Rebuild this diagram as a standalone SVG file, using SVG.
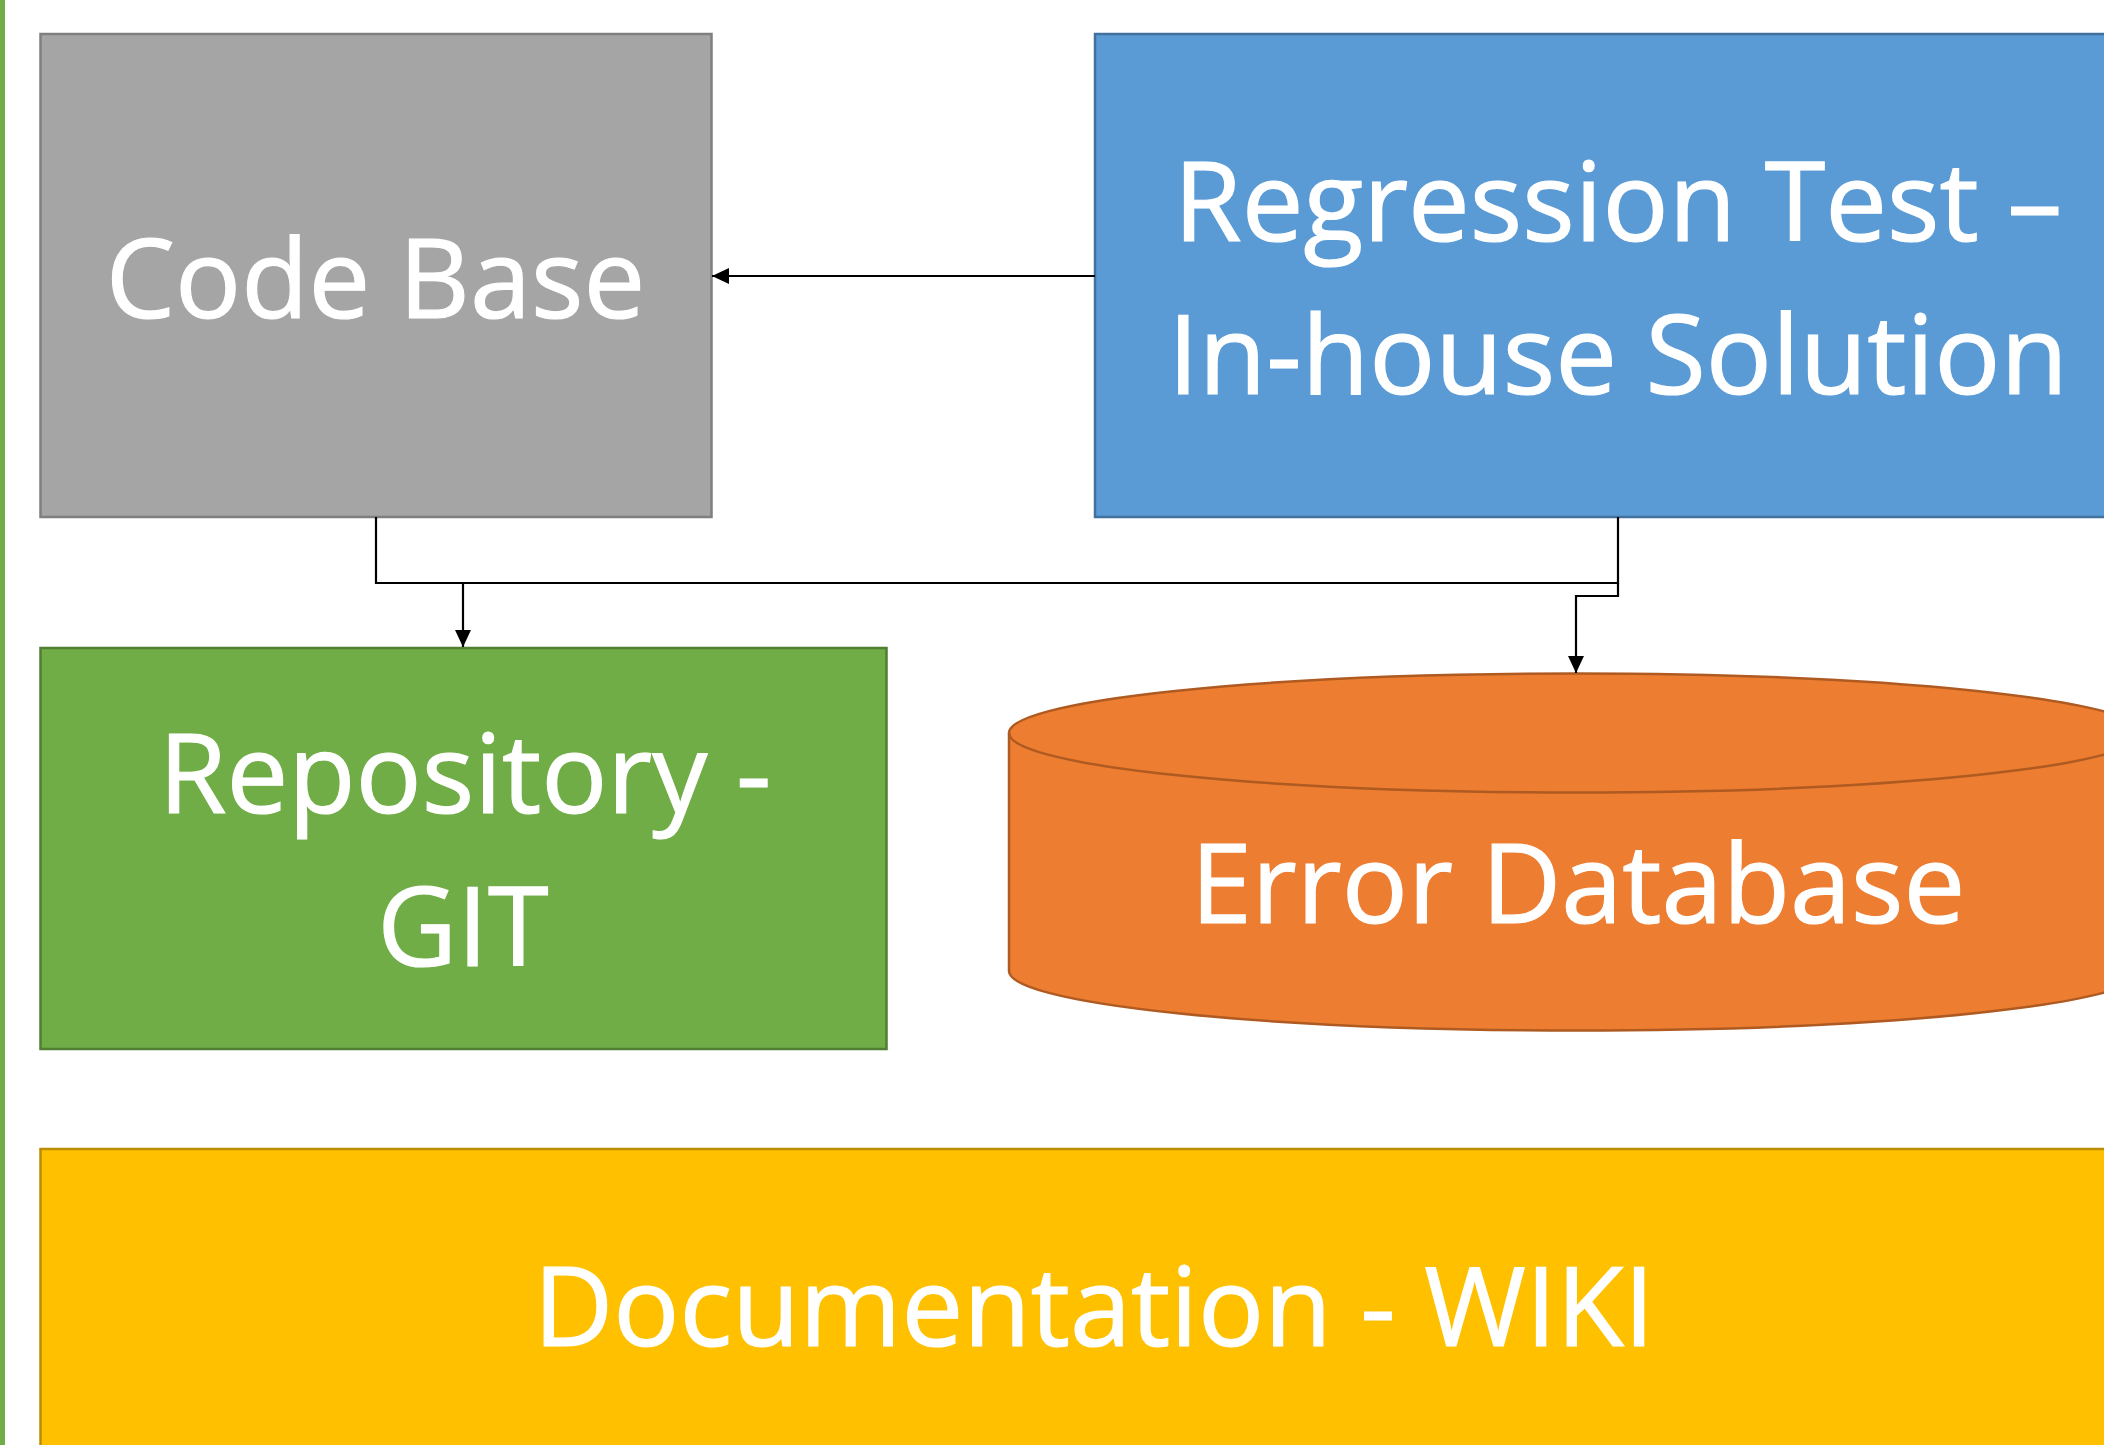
<svg xmlns="http://www.w3.org/2000/svg" width="2104" height="1445" viewBox="0 0 2104 1445">
<style>
.lbl{font-family:"Open Sans","Noto Sans","DejaVu Sans",sans-serif;font-size:110px;fill:#ffffff;stroke:#ffffff;stroke-width:1.2;text-anchor:middle}
.conn{fill:none;stroke:#000000;stroke-width:2.2}
</style>
<defs>
<marker id="ah" markerWidth="17" markerHeight="16" refX="17" refY="8" orient="auto" markerUnits="userSpaceOnUse">
<path d="M0,0 L17,8 L0,16 Z" fill="#000000"/>
</marker>
</defs>
<rect x="0" y="0" width="2104" height="1445" fill="#ffffff"/>
<rect x="0" y="0" width="5" height="1445" fill="#70AD47"/>
<g id="code-base">
<rect x="40.5" y="34" width="671" height="483" fill="#A5A5A5" stroke="#7F7F7F" stroke-width="2.5"/>
<text class="lbl" x="375.5" y="318">Code Base</text>
</g>
<g id="regression-test">
<rect x="1095" y="34" width="1046" height="483" fill="#5B9BD5" stroke="#41719C" stroke-width="2.5"/>
<text class="lbl" x="1618" y="241">Regression Test –</text>
<text class="lbl" x="1618" y="394">In-house Solution</text>
</g>
<g id="repository">
<rect x="40.5" y="648" width="846" height="401" fill="#70AD47" stroke="#507E32" stroke-width="2.5"/>
<text class="lbl" x="465" y="813">Repository -</text>
<text class="lbl" x="463" y="966">GIT</text>
</g>
<g id="error-database">
<path d="M1009,733 L1009,971 A567,59.5 0 0 0 2143,971 L2143,733 A567,59.5 0 0 0 1009,733 Z" fill="#ED7D31" stroke="#AE5A21" stroke-width="2.5"/>
<path d="M1009,733 A567,59.5 0 0 0 2143,733" fill="none" stroke="#AE5A21" stroke-width="2.5"/>
<text class="lbl" x="1578" y="923">Error Database</text>
</g>
<g id="documentation">
<rect x="40.5" y="1149" width="2106" height="320" fill="#FFC000" stroke="#BC8C00" stroke-width="2.5"/>
<text class="lbl" x="1094" y="1346">Documentation - WIKI</text>
</g>
<g id="connectors">
<path class="conn" d="M1095,276 L712,276" marker-end="url(#ah)"/>
<path class="conn" d="M376,517 L376,583 L463,583 L463,647" marker-end="url(#ah)"/>
<path class="conn" d="M1618,517 L1618,583 L463,583"/>
<path class="conn" d="M1618,583 L1618,596 L1576,596 L1576,673" marker-end="url(#ah)"/>
</g>
</svg>
